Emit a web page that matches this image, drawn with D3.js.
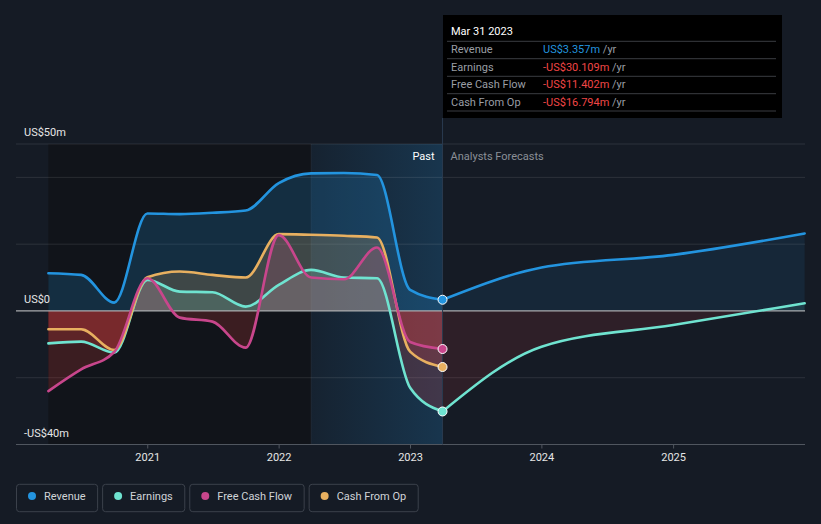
<!DOCTYPE html>
<html>
<head>
<meta charset="utf-8">
<script src="https://cdn.jsdelivr.net/npm/d3@7"></script>
<style>
html,body{margin:0;padding:0;background:#151b25;}
svg{display:block;font-family:Roboto,"Noto Sans",sans-serif;}
</style>
</head>
<body>
<svg id="chart" width="821" height="524"></svg>
<script>
// ---- data ----
const pastDates = ["2020-03-31","2020-06-30","2020-09-30","2020-12-31","2021-03-31","2021-06-30","2021-09-30","2021-12-31","2022-03-31","2022-06-30","2022-09-30","2022-12-31","2023-03-31"];
const revenuePast  = [11.3, 10.8, 2.5, 29.2, 29.0, 29.4, 30.1, 38.3, 41.2, 41.3, 40.7, 6.3, 3.357];
const earningsPast = [-9.7, -9.2, -12.5, 9.3, 5.8, 5.6, 1.3, 7.8, 12.3, 10.0, 9.8, -23.0, -30.109];
const fcfPast      = [-24.0, -17.5, -12.3, 9.8, -2.0, -3.2, -11.0, 22.7, 10.0, 9.5, 19.0, -9.3, -11.402];
const cfoPast      = [-5.5, -5.5, -11.7, 10.1, 11.8, 10.8, 10.0, 23.0, 22.8, 22.5, 22.0, -12.2, -16.794];

const forecastDates    = ["2023-03-31","2023-12-31","2024-12-31","2025-12-31"];
const revenueForecast  = [3.357, 13.0, 16.8, 23.2];
const earningsForecast = [-30.109, -10.7, -4.2, 2.3];

const seriesNames  = ["Revenue","Earnings","Free Cash Flow","Cash From Op"];
const seriesColors = ["#2394df","#6fe3d0","#c8468c","#e8b060"];

const yTickValues = [-40, -20, 0, 20, 40, 50];
const yLabelValues = [50, 0, -40];
const yLabelTexts = ["US$50m", "US$0", "-US$40m"];
const xTickYears = [2021, 2022, 2023, 2024, 2025];

const tooltipDate = "Mar 31 2023";
const tooltipValues = ["US$3.357m", "-US$30.109m", "-US$11.402m", "-US$16.794m"];

const pastStart = "2020-03-31";
const highlightStart = "2022-03-31";
const nowDate = "2023-03-31";

// ---- setup ----
const W = 821, H = 524;
const svg = d3.select("#chart");
const parse = d3.utcParse("%Y-%m-%d");
const x = d3.scaleUtc().domain([parse("2020-01-01"), parse("2026-01-01")]).range([16, 805]);
const y = d3.scaleLinear().domain([-40, 50]).range([444.5, 144]);
const y0 = y(0);

const defs = svg.append("defs");
defs.append("clipPath").attr("id","above").append("rect").attr("x",0).attr("y",0).attr("width",W).attr("height",y0);
defs.append("clipPath").attr("id","below").append("rect").attr("x",0).attr("y",y0).attr("width",W).attr("height",H-y0);
const hg = defs.append("linearGradient").attr("id","hl").attr("x1","0").attr("x2","1").attr("y1","0").attr("y2","0");
hg.append("stop").attr("offset","0").attr("stop-color","#2394df").attr("stop-opacity",0.06);
hg.append("stop").attr("offset","1").attr("stop-color","#2394df").attr("stop-opacity",0.22);

svg.append("rect").attr("width",W).attr("height",H).attr("fill","#151b25");

// past dark region
svg.append("rect").attr("x", x(parse(pastStart))).attr("y", y(50))
  .attr("width", x(parse(highlightStart)) - x(parse(pastStart))).attr("height", y(-40) - y(50))
  .attr("fill", "#11141a");
// highlight last-year region
svg.append("rect").attr("x", x(parse(highlightStart))).attr("y", y(50))
  .attr("width", x(parse(nowDate)) - x(parse(highlightStart))).attr("height", y(-40) - y(50))
  .attr("fill", "url(#hl)");
svg.append("line").attr("x1", x(parse(highlightStart))).attr("x2", x(parse(highlightStart)))
  .attr("y1", y(50)).attr("y2", y(-40)).attr("stroke","rgba(255,255,255,0.06)");

// gridlines
svg.append("g").selectAll("line").data(yTickValues.filter(v => v !== 0 && v !== -40)).join("line")
  .attr("x1",16).attr("x2",805).attr("y1",d=>y(d)).attr("y2",d=>y(d))
  .attr("stroke","rgba(255,255,255,0.1)").attr("stroke-width",1);

// series
const pastD = pastDates.map(parse);
const fcD = forecastDates.map(parse);
const pastSeries = [revenuePast, earningsPast, fcfPast, cfoPast];
const red = "#e64141";

const area = d3.area().x(d=>x(d[0])).y0(y0).y1(d=>y(d[1])).curve(d3.curveMonotoneX);
const line = d3.line().x(d=>x(d[0])).y(d=>y(d[1])).curve(d3.curveMonotoneX);

const fills = svg.append("g");
pastSeries.forEach((vals, i) => {
  const pts = pastD.map((d, j) => [d, vals[j]]);
  fills.append("path").attr("d", area(pts)).attr("fill", seriesColors[i]).attr("fill-opacity", 0.2).attr("clip-path","url(#above)");
  fills.append("path").attr("d", area(pts)).attr("fill", red).attr("fill-opacity", 0.2).attr("clip-path","url(#below)");
});
const fcSeries = [[revenueForecast, 0], [earningsForecast, 1]];
fcSeries.forEach(([vals, i]) => {
  const pts = fcD.map((d, j) => [d, vals[j]]);
  fills.append("path").attr("d", area(pts)).attr("fill", seriesColors[i]).attr("fill-opacity", 0.1).attr("clip-path","url(#above)");
  fills.append("path").attr("d", area(pts)).attr("fill", red).attr("fill-opacity", 0.12).attr("clip-path","url(#below)");
});

// zero line & axis
svg.append("line").attr("x1",16).attr("x2",805).attr("y1",y0).attr("y2",y0).attr("stroke","#a9abae").attr("stroke-width",1.3);
svg.append("line").attr("x1",16).attr("x2",805).attr("y1",y(-40)).attr("y2",y(-40)).attr("stroke","#50565f").attr("stroke-width",1);

// tooltip vertical line
svg.append("line").attr("x1", x(parse(nowDate))).attr("x2", x(parse(nowDate)))
  .attr("y1", 118).attr("y2", y(-40)).attr("stroke","#2a3a4f").attr("stroke-width",1);

// lines
const lines = svg.append("g").attr("fill","none").attr("stroke-width",2.6).attr("stroke-linejoin","round").attr("stroke-linecap","round");
const order = [0, 1, 3, 2];
order.forEach(i => {
  const pts = pastD.map((d, j) => [d, pastSeries[i][j]]);
  lines.append("path").attr("d", line(pts)).attr("stroke", seriesColors[i]);
});
fcSeries.forEach(([vals, i]) => {
  const pts = fcD.map((d, j) => [d, vals[j]]);
  lines.append("path").attr("d", line(pts)).attr("stroke", seriesColors[i]);
});

// dots at now
const nowIdx = pastDates.indexOf(nowDate);
[0, 2, 3, 1].forEach(i => {
  svg.append("circle").attr("cx", x(parse(nowDate))).attr("cy", y(pastSeries[i][nowIdx])).attr("r", 4.5)
    .attr("fill", seriesColors[i]).attr("stroke","#ffffff").attr("stroke-width",1);
});

// y labels
svg.append("g").selectAll("text").data(yLabelValues).join("text")
  .attr("x", 24).attr("y", d => y(d) - 8).text((d,i)=>yLabelTexts[i])
  .attr("fill","#e6e6e6").attr("font-size",11);

// x axis ticks
const xg = svg.append("g");
xTickYears.forEach(yr => {
  const xx = x(new Date(Date.UTC(yr,0,1)));
  xg.append("line").attr("x1",xx).attr("x2",xx).attr("y1",y(-40)).attr("y2",y(-40)+4).attr("stroke","#50565f");
  xg.append("text").attr("x",xx).attr("y",460.5).attr("text-anchor","middle").attr("fill","#e6e6e6").attr("font-size",11).text(yr);
});

// Past / Analysts Forecasts
svg.append("text").attr("x", x(parse(nowDate)) - 8).attr("y", 160).attr("text-anchor","end").attr("fill","#ffffff").attr("font-size",11).text("Past");
svg.append("text").attr("x", x(parse(nowDate)) + 8).attr("y", 160).attr("fill","#8a8f97").attr("font-size",11).text("Analysts Forecasts");

// tooltip
const tt = svg.append("g");
tt.append("rect").attr("x",443).attr("y",15).attr("width",339).attr("height",103).attr("fill","#000000");
tt.append("text").attr("x",451).attr("y",34.6).attr("fill","#ffffff").attr("font-size",11).text(tooltipDate);
const sepY = [41.3, 58.7, 76.3, 93.7, 111];
sepY.forEach(s => tt.append("line").attr("x1",447).attr("x2",776).attr("y1",s).attr("y2",s).attr("stroke","#3a3d42").attr("stroke-width",1));
seriesNames.forEach((n, i) => {
  const by = 53.2 + i * 17.5;
  tt.append("text").attr("x",451).attr("y",by).attr("fill","#9a9ea5").attr("font-size",11).text(n);
  const t = tt.append("text").attr("x",543).attr("y",by).attr("font-size",11);
  t.append("tspan").attr("fill", i === 0 ? "#2394df" : "#f04646").text(tooltipValues[i]);
  t.append("tspan").attr("fill","#9a9ea5").text(" /yr");
});

// legend
const lg = svg.append("g");
let lx = 16.5;
seriesNames.forEach((n, i) => {
  const g = lg.append("g");
  const txt = g.append("text").attr("x", lx + 27.5).attr("y", 500).attr("fill","#d0d3d8").attr("font-size",11).text(n);
  const tw = txt.node().getComputedTextLength();
  const bw = 27.5 + tw + 12;
  g.insert("rect","text").attr("x",lx).attr("y",484.3).attr("width",bw).attr("height",27.4).attr("rx",3)
    .attr("fill","none").attr("stroke","#3b414b").attr("stroke-width",1);
  g.append("circle").attr("cx", lx + 15.5).attr("cy", 496).attr("r", 4).attr("fill", seriesColors[i]);
  lx += bw + 5;
});
</script>
</body>
</html>
